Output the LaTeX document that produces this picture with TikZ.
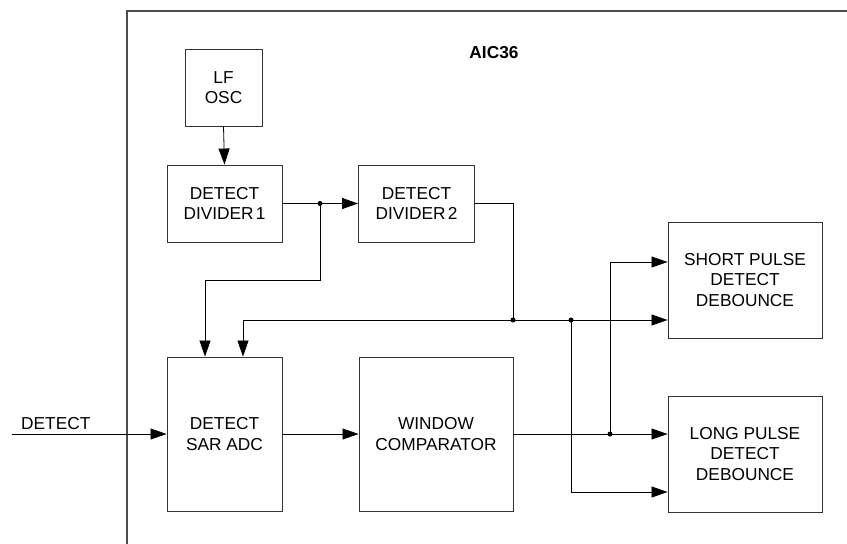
\documentclass[tikz,border=0pt]{standalone}
\usepackage{fontspec}
\setmainfont{Liberation Sans}
\usetikzlibrary{arrows.meta,calc}
\begin{document}
\begin{tikzpicture}[x=1pt,y=-1pt,
  blk/.style={draw=black!80, line width=0.9pt, fill=white, align=center, inner sep=0pt,
    font=\fontsize{17.3}{20.5}\selectfont},
  arr/.style={draw=black, line width=0.8pt, -{Triangle[length=16pt,width=11pt]}},
  wire/.style={draw=black, line width=0.8pt},
  dot/.style={circle, fill=black, inner sep=0pt, minimum size=5pt},
  lbl/.style={font=\fontsize{17.3}{20.5}\selectfont, inner sep=0pt}]
\useasboundingbox (0,0) rectangle (847,544);
% frame
\draw[draw=black!70, line width=1.6pt] (847,11) -- (127,11) -- (127,544);
\node[lbl, font=\fontsize{17.3}{20.5}\selectfont\bfseries] (title) at (494,53) {AIC36};
% blocks
\node[blk, minimum width=77pt, minimum height=77pt] (lfosc) at (223.5,87.5) {LF\\OSC};
\node[blk, minimum width=115pt, minimum height=77pt] (div1) at (224.5,203.5) {DETECT\\DIVIDER\hspace{0.12em}1};
\node[blk, minimum width=116pt, minimum height=77pt] (div2) at (416.5,203.5) {DETECT\\DIVIDER\hspace{0.12em}2};
\node[blk, minimum width=115pt, minimum height=154pt] (sar) at (224.5,434) {DETECT\\SAR ADC};
\node[blk, minimum width=154pt, minimum height=154pt] (win) at (436,434) {WINDOW\\COMPARATOR};
\node[blk, minimum width=154pt, minimum height=116pt] (short) at (745,280) {SHORT PULSE\\DETECT\\DEBOUNCE};
\node[blk, minimum width=154pt, minimum height=116pt] (long) at (745,454) {LONG PULSE\\DETECT\\DEBOUNCE};
% junctions and bends
\node[dot] (j1) at (320,203.5) {};
\node[dot] (j2) at (513,320) {};
\node[dot] (j3) at (571,320) {};
\node[dot] (j4) at (610,434) {};
\coordinate (b1) at (205,280);
\coordinate (b2) at (243,320);
\coordinate (b3) at (513,203.5);
\coordinate (in) at (12,434);
% connectors
\draw[arr] (lfosc.south) -- (div1.north);
\draw[wire] (div1.east) -- (j1.center);
\draw[arr] (j1.center) -- (div2.west);
\draw[wire] (j1.center) |- (b1);
\draw[arr] (b1) -- (b1 |- sar.north);
\draw[wire] (div2.east) -- (b3) -- (j2.center);
\draw[arr] (b2) -- (b2 |- sar.north);
\draw[arr] (b2) -- (b2 -| short.west);
\draw[arr] (j3.center) |- ($(long.west)+(0,38)$);
\draw[arr] (sar.east) -- (win.west);
\draw[arr] (win.east) -- (win.east -| long.west);
\draw[arr] (j4.center) |- ($(short.west)+(0,-18)$);
\draw[arr] (in) -- (in -| sar.west);
\node[lbl, anchor=south west] (dlabel) at (21,430) {DETECT};
\end{tikzpicture}
\end{document}
